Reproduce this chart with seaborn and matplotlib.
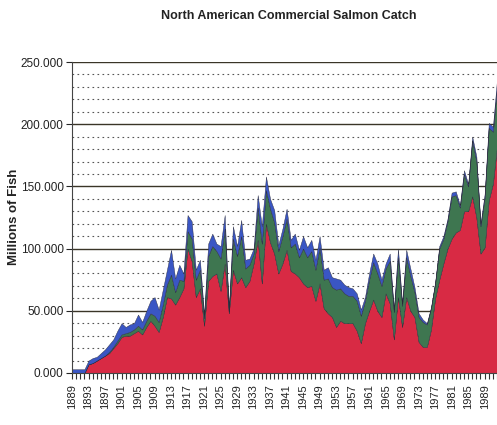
import numpy as np
import matplotlib
matplotlib.use("Agg")
import matplotlib.pyplot as plt
from matplotlib.ticker import MultipleLocator, FixedLocator
import seaborn as sns

# Catch in millions of fish, one value per year
years = list(range(1889, 1993))

red = [0, 0, 0, 0, 7, 8, 10, 12, 14, 16,          # 1889-1898
       20, 24, 29, 30, 30, 32, 34, 31, 37, 42,     # 1899-1908
       38, 33, 45, 61, 60, 55, 61, 68, 100, 90,    # 1909-1918
       61, 68, 38, 74, 78, 80, 66, 88, 48, 83,     # 1919-1928
       72, 77, 69, 74, 88, 107, 72, 120, 105, 96,  # 1929-1938
       80, 88, 99, 82, 80, 77, 72, 69, 70, 58,     # 1939-1948
       72, 52, 48, 45, 37, 42, 40, 40, 40, 34,     # 1949-1958
       24, 40, 50, 59, 50, 45, 64, 56, 27, 61,     # 1959-1968
       37, 61, 50, 45, 25, 21, 21, 35, 60, 75,     # 1969-1978
       88, 100, 108, 113, 115, 130, 130, 142, 125, 96,  # 1979-1988
       101, 139, 152, 182]                         # 1989-1992

green = [0, 0, 0, 0, 0, 0, 0, 0, 0, 1,
         1, 2, 2, 2, 3, 3, 4, 4, 5, 6,
         8, 8, 10, 10, 19, 10, 14, 6, 14, 18,
         14, 15, 6, 20, 24, 18, 26, 28, 2, 25,
         22, 33, 15, 13, 8, 26, 32, 27, 27, 25,
         18, 22, 25, 19, 24, 16, 28, 24, 28, 25,
         29, 23, 28, 24, 30, 26, 24, 22, 22, 24,
         22, 18, 25, 30, 30, 25, 20, 34, 22, 32,
         17, 32, 28, 20, 20, 20, 18, 17, 12, 25,
         20, 22, 34, 30, 18, 30, 20, 45, 45, 22,
         40, 58, 42, 48]

blue = [3, 3, 3, 3, 3, 4, 3, 4, 5, 6,
        6, 8, 9, 5, 6, 5, 9, 6, 8, 10,
        15, 10, 12, 12, 20, 11, 12, 6, 13, 14,
        8, 8, 3, 10, 10, 6, 10, 11, 1, 10,
        8, 13, 7, 5, 4, 10, 14, 11, 8, 10,
        5, 6, 8, 6, 8, 6, 10, 8, 9, 8,
        9, 8, 9, 8, 9, 7, 7, 7, 6, 6,
        5, 3, 5, 7, 8, 5, 4, 6, 2, 7,
        2, 6, 6, 4, 3, 2, 1, 1, 1, 2,
        2, 2, 3, 3, 2, 3, 2, 3, 4, 2,
        3, 4, 4, 6]

y_ticks = [0, 50, 100, 150, 200, 250]
y_labels = ["0.000", "50.000", "100.000", "150.000", "200.000", "250.000"]
x_label_years = list(range(1889, 1990, 4))

sns.set_theme(style="white")
plt.rcParams["font.family"] = ["Liberation Sans", "DejaVu Sans"]

fig = plt.figure(figsize=(4.97, 4.25), dpi=100)
ax = fig.add_axes([0.1449, 0.1224, 0.8551, 0.7317])

ax.stackplot(years, red, green, blue,
             colors=["#d82a44", "#3e7650", "#3a56c4"],
             edgecolor="#2a2a3a", linewidth=0.3)

ax.set_xlim(1889, 1992)
ax.set_ylim(0, 250)

ax.yaxis.set_major_locator(FixedLocator(y_ticks))
ax.set_yticklabels(y_labels, fontsize=8.5, color="#222222")
ax.yaxis.set_minor_locator(MultipleLocator(10))
ax.grid(which="major", axis="y", color="#3a3528", linewidth=1.0, linestyle="-")
ax.grid(which="minor", axis="y", color="#555555", linewidth=0.8, linestyle=(0, (1.5, 3)))
ax.set_axisbelow(True)

ax.xaxis.set_major_locator(FixedLocator(x_label_years))
ax.xaxis.set_minor_locator(MultipleLocator(1))
ax.set_xticklabels([str(y) for y in x_label_years], rotation=90, fontsize=8, color="#222222")
ax.tick_params(axis="x", which="both", direction="out", length=4, width=0.8, colors="#333333",
               bottom=True, pad=4)
ax.tick_params(axis="x", which="major", labelcolor="#222222")
ax.tick_params(axis="y", which="major", direction="out", length=4, width=0.8, left=True, pad=2)
ax.tick_params(axis="y", which="minor", left=False)

sns.despine(ax=ax, top=True, right=True)
ax.spines["left"].set_color("#444444")
ax.spines["left"].set_linewidth(0.8)
ax.spines["bottom"].set_color("#444444")
ax.spines["bottom"].set_linewidth(0.8)

fig.text(14 / 497, 1 - 217 / 425, "Millions of Fish", rotation=90,
         ha="center", va="center", fontsize=9.5, fontweight="bold", color="#222222")
fig.text(289 / 497, 1 - 16 / 425, "North American Commercial Salmon Catch",
         ha="center", va="center", fontsize=9, color="#222222", fontweight="bold")

fig.savefig("out.png", dpi=100)
